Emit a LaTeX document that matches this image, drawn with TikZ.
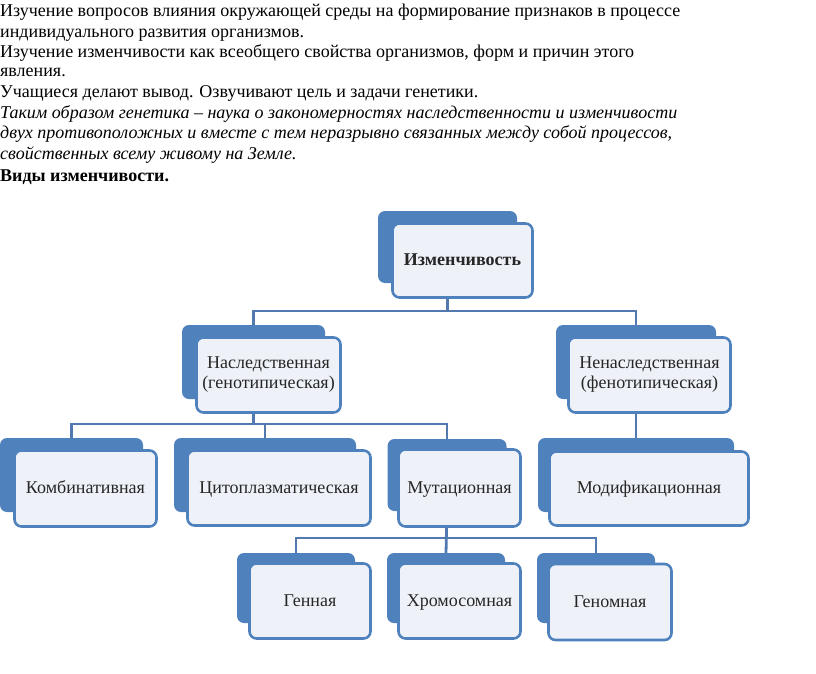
\documentclass[tikz,border=0pt]{standalone}
\usepackage{fontspec}
\setmainfont{Liberation Serif}
\usepackage{xcolor}
\usetikzlibrary{positioning,backgrounds}
\definecolor{accblue}{RGB}{79,129,189}
\definecolor{linkblue}{RGB}{82,122,176}
\definecolor{paleblue}{RGB}{238,242,248}

\begin{document}
\begin{tikzpicture}[x=1pt,y=-1pt,
  txt/.style={anchor=base west,inner sep=0pt,font=\fontsize{18}{20}\selectfont},
  bk/.style={fill=accblue,rounded corners=7pt,inner sep=0pt},
  fr/.style={draw=accblue,line width=2.6pt,rounded corners=7pt,fill=paleblue,
    align=center,inner sep=0pt,font=\fontsize{18}{20}\selectfont,text=black!85},
  single/.style={fr,text height=12pt,text depth=2pt},
  conn/.style={draw=linkblue,line width=2.8pt}]
\useasboundingbox (0,0) rectangle (816,674);
\node[txt] (l1) at (0,17) {Изучение вопросов влияния окружающей среды на формирование признаков в процессе};
\node[txt] (l2) at (0,37.5) {индивидуального развития организмов.};
\node[txt] (l3) at (0,57.5) {Изучение изменчивости как всеобщего свойства организмов, форм и причин этого};
\node[txt] (l4) at (0,77) {явления.};
\node[txt] (l5) at (0,97.5) {Учащиеся делают вывод. Озвучивают цель и задачи генетики.};
\node[txt,font=\fontsize{18}{20}\selectfont\itshape] (l6) at (0,118) {Таким образом генетика – наука о закономерностях наследственности и изменчивости};
\node[txt,font=\fontsize{18}{20}\selectfont\itshape] (l7) at (0,139) {двух противоположных и вместе с тем неразрывно связанных между собой процессов,};
\node[txt,font=\fontsize{18}{20}\selectfont\itshape] (l8) at (0,159.5) {свойственных всему живому на Земле.};
\node[txt,font=\fontsize{18}{20}\selectfont\bfseries] (l9) at (0,181) {Виды изменчивости.};

\node[bk,minimum width=139,minimum height=72] (izmB) at (447.5,247) {};
\node[single,minimum width=140,minimum height=74,font=\fontsize{18}{20}\selectfont\bfseries] (izmF) at (462.5,260.5) {Изменчивость};

\node[bk,minimum width=143,minimum height=74] (nasB) at (253.5,362) {};
\node[fr,minimum width=144,minimum height=75] (nasF) at (268.5,375) {Наследственная\\(генотипическая)};
\node[bk,minimum width=160,minimum height=74] (nenB) at (636,362) {};
\node[fr,minimum width=162,minimum height=75] (nenF) at (649.5,375) {Ненаследственная\\(фенотипическая)};

\node[bk,minimum width=143,minimum height=74] (komB) at (71.5,475) {};
\node[single,minimum width=142,minimum height=76] (komF) at (85.5,488.5) {Комбинативная};
\node[bk,minimum width=182,minimum height=74] (citB) at (265,475) {};
\node[single,minimum width=183,minimum height=75] (citF) at (279,488) {Цитоплазматическая};
\node[bk,minimum width=119,minimum height=72] (mutB) at (447,475) {};
\node[single,minimum width=122,minimum height=77] (mutF) at (459.5,488) {Мутационная};
\node[bk,minimum width=196,minimum height=74] (modB) at (636,475) {};
\node[single,minimum width=199,minimum height=74] (modF) at (649,488.5) {Модификационная};

\node[bk,minimum width=118,minimum height=70] (genB) at (296,588) {};
\node[single,minimum width=121,minimum height=75] (genF) at (310,601) {Генная};
\node[bk,minimum width=118,minimum height=70] (hroB) at (446,588) {};
\node[single,minimum width=122,minimum height=75] (hroF) at (459.5,601) {Хромосомная};
\node[bk,minimum width=118,minimum height=70] (gnmB) at (596,588) {};
\node[single,minimum width=123,minimum height=76] (gnmF) at (610,602) {Геномная};

\coordinate (bus1) at (0,311);
\coordinate (bus2) at (0,424);
\coordinate (bus3) at (0,538);
\begin{scope}[on background layer]
\draw[conn] (izmB.south) |- (bus1 -| nasB) -- (nasB.north);
\draw[conn] (izmB.south) |- (bus1 -| nenB) -- (nenB.north);
\draw[conn] (nasB.south) |- (bus2 -| komB) -- (komB.north);
\draw[conn] (nasB.south) |- (bus2 -| mutB) -- (mutB.north);
\draw[conn] (bus2 -| citB) -- (citB.north);
\draw[conn] (nenB.south) -- (modB.north);
\draw[conn] (mutB.south) |- (bus3 -| genB) -- (genB.north);
\draw[conn] (mutB.south) |- (bus3 -| gnmB) -- (gnmB.north);
\draw[conn] (mutB.south) -- (hroB.north);
\end{scope}
\end{tikzpicture}
\end{document}
